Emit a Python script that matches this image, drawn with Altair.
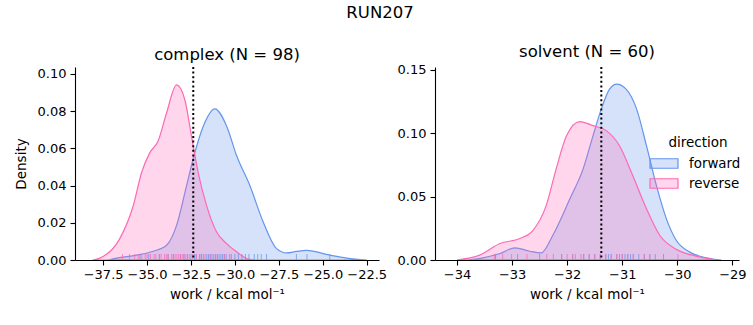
import altair as alt
import pandas as pd

# ---- complex panel: density curves ----
cx_fwd = [-37.2, -36.74, -35.6, -34.65, -33.89, -33.32, -32.75, -32.33, -31.8, -31.14,
          -30.47, -29.9, -29.15, -28.39, -27.63, -27.06, -26.5, -25.92, -24.6, -23.64, -22.5]
cy_fwd = [0.0, 0.001, 0.0026, 0.0047, 0.0079, 0.0186, 0.040, 0.056, 0.0719, 0.0812,
          0.0719, 0.056, 0.040, 0.0204, 0.0061, 0.0038, 0.0046, 0.0052, 0.0026, 0.001, 0.0]
cx_rev = [-38.1, -37.69, -36.55, -35.79, -35.31, -34.84, -34.37, -33.89, -33.32, -32.85,
          -32.47, -32.09, -31.61, -31.04, -30.47, -29.9, -29.33, -28.9]
cy_rev = [0.0, 0.001, 0.0115, 0.029, 0.047, 0.0577, 0.0639, 0.079, 0.0941, 0.0861,
          0.0666, 0.047, 0.0292, 0.015, 0.0088, 0.0044, 0.0008, 0.0]

# ---- solvent panel ----
sx_fwd = [-33.8, -33.53, -33.22, -32.95, -32.68, -32.47, -32.26, -31.95, -31.71, -31.53,
          -31.38, -31.23, -31.1, -30.93, -30.74, -30.56, -30.38, -30.2, -30.02, -29.78, -29.47, -29.2]
sy_fwd = [0.0, 0.0017, 0.0051, 0.0096, 0.0069, 0.0056, 0.0195, 0.0483, 0.0718, 0.098,
          0.119, 0.1346, 0.1385, 0.1346, 0.119, 0.090, 0.0587, 0.0326, 0.0156, 0.0064, 0.0017, 0.0]
sx_rev = [-34.0, -33.59, -33.22, -32.86, -32.62, -32.38, -32.2, -32.01, -31.77, -31.53,
          -31.29, -31.05, -30.81, -30.56, -30.32, -30.02, -29.66, -29.3]
sy_rev = [0.0, 0.0038, 0.013, 0.0169, 0.0234, 0.043, 0.0718, 0.098, 0.109, 0.1058,
          0.1019, 0.090, 0.0666, 0.0404, 0.0195, 0.0085, 0.003, 0.0]

# ---- rug samples (approximate) ----
rug_c_fwd = [-35.4, -34.9, -34.3, -33.8, -33.5, -33.1, -32.9, -32.7, -32.5, -32.3, -32.2,
             -32.0, -31.9, -31.8, -31.6, -31.5, -31.4, -31.3, -31.2, -31.1, -31.0, -30.9,
             -30.8, -30.7, -30.6, -30.5, -30.3, -30.2, -30.0, -29.8, -29.6, -29.4, -29.2,
             -28.9, -28.7, -28.5, -28.2, -26.5, -25.9, -24.6]
rug_c_rev = [-36.4, -36.0, -35.7, -35.5, -35.3, -35.1, -35.0, -34.8, -34.6, -34.5, -34.3,
             -34.2, -34.0, -33.9, -33.8, -33.6, -33.5, -33.4, -33.3, -33.2, -33.1, -33.0,
             -32.9, -32.8, -32.6, -32.4, -32.2, -32.0, -31.7, -31.4, -31.0, -30.6]
rug_s_fwd = [-33.3, -32.9, -32.5, -32.1, -31.9, -31.7, -31.6, -31.5, -31.4, -31.3, -31.25,
             -31.2, -31.1, -31.05, -31.0, -30.95, -30.9, -30.85, -30.8, -30.7, -30.6, -30.5,
             -30.4, -30.25]
rug_s_rev = [-33.32, -33.17, -33.01, -32.73, -32.37, -32.25, -32.1, -32.0, -31.9, -31.85,
             -31.75, -31.7, -31.6, -31.5, -31.4, -31.3, -31.2, -31.1, -31.0, -30.9, -30.8,
             -30.6, -30.5, -29.99]

vline_complex = -32.37
vline_solvent = -31.38

directions = ["forward", "reverse"]
stroke_colors = ["#6495ED", "#FF69B4"]
fill_colors = ["rgba(100,149,237,0.27)", "rgba(255,105,180,0.27)"]

FONT = "DejaVu Sans"
W, H = 304, 193


def curve_df(xf, yf, xr, yr):
    return pd.concat([
        pd.DataFrame({"x": xf, "y": yf, "direction": "forward"}),
        pd.DataFrame({"x": xr, "y": yr, "direction": "reverse"}),
    ])


def rug_df(rf, rr):
    return pd.concat([
        pd.DataFrame({"x": rf, "direction": "forward"}),
        pd.DataFrame({"x": rr, "direction": "reverse"}),
    ])


legend = alt.Legend(
    title="direction", orient="none", legendX=581, legendY=69,
    symbolType="M-2,-0.68H2V0.68H-2Z", symbolSize=196, symbolStrokeWidth=1.2,
    labelOffset=17, titleFontSize=13.5, labelFontSize=13.4, titleFontWeight="normal",
    titleFont=FONT, labelFont=FONT, titleColor="black", labelColor="black",
    rowPadding=4, titlePadding=6, titleAnchor="middle", padding=0,
)
fill_scale = alt.Scale(domain=directions, range=fill_colors)
stroke_scale = alt.Scale(domain=directions, range=stroke_colors)


def panel(curves, rugs, vline, xdom, xticks, xfmt, ydom, yticks, title, ytitle):
    xaxis = alt.Axis(values=xticks, format=xfmt, title="work / kcal mol⁻¹", grid=False,
                     tickSize=5, labelPadding=3, titlePadding=6, zindex=2)
    x = alt.X("x:Q", scale=alt.Scale(domain=xdom, nice=False, zero=False), axis=xaxis)
    yaxis = alt.Axis(values=yticks, format=".2f", grid=False, tickSize=5, labelPadding=4,
                     minExtent=37, maxExtent=37, titlePadding=10, zindex=2,
                     title=ytitle if ytitle else None)
    area = alt.Chart(curves).mark_area(interpolate="monotone", strokeWidth=1.2).encode(
        x=x,
        y=alt.Y("y:Q", stack=None, scale=alt.Scale(domain=ydom, nice=False), axis=yaxis),
        fill=alt.Fill("direction:N", scale=fill_scale, legend=legend),
        stroke=alt.Stroke("direction:N", scale=stroke_scale, legend=legend),
        detail="direction:N",
    )
    rug = alt.Chart(rugs).mark_rule(strokeWidth=1, opacity=0.75).encode(
        x=alt.X("x:Q"),
        y=alt.value(H - 6), y2=alt.value(H),
        stroke=alt.Stroke("direction:N", scale=stroke_scale, legend=None),
    )
    vl = alt.Chart(pd.DataFrame({"v": [vline]})).mark_rule(
        color="black", strokeWidth=2, strokeDash=[2, 2.6]).encode(x=alt.X("v:Q"))
    return alt.layer(area, rug, vl).properties(
        width=W, height=H,
        title=alt.TitleParams(title, fontSize=16.5, font=FONT, fontWeight="normal",
                              color="black", offset=3),
    )


left = panel(curve_df(cx_fwd, cy_fwd, cx_rev, cy_rev), rug_df(rug_c_fwd, rug_c_rev),
             vline_complex, [-39.1, -21.8],
             [-37.5, -35.0, -32.5, -30.0, -27.5, -25.0, -22.5], ".1f",
             [0, 0.1037], [0, 0.02, 0.04, 0.06, 0.08, 0.10], "complex (N = 98)", "Density")
right = panel(curve_df(sx_fwd, sy_fwd, sx_rev, sy_rev), rug_df(rug_s_fwd, rug_s_rev),
              vline_solvent, [-34.4, -28.88],
              [-34, -33, -32, -31, -30, -29], "d",
              [0, 0.152], [0, 0.05, 0.10, 0.15], "solvent (N = 60)", None)

chart = alt.hconcat(left, right, spacing=56, bounds="flush").properties(
    title=alt.TitleParams("RUN207", fontSize=16.5, font=FONT, fontWeight="normal",
                          color="black", anchor="middle", offset=23),
    padding={"left": 14, "top": 4, "right": 5, "bottom": 5},
    background="white",
).configure_view(stroke=None).configure_axis(
    labelFont=FONT, titleFont=FONT, labelFontSize=13, titleFontSize=13.5,
    labelColor="black", titleColor="black", titleFontWeight="normal",
    domainColor="black", tickColor="black", domainWidth=1.1, tickWidth=1.1,
)

chart.save("out.html", embed_options={"renderer": "svg", "actions": False})
